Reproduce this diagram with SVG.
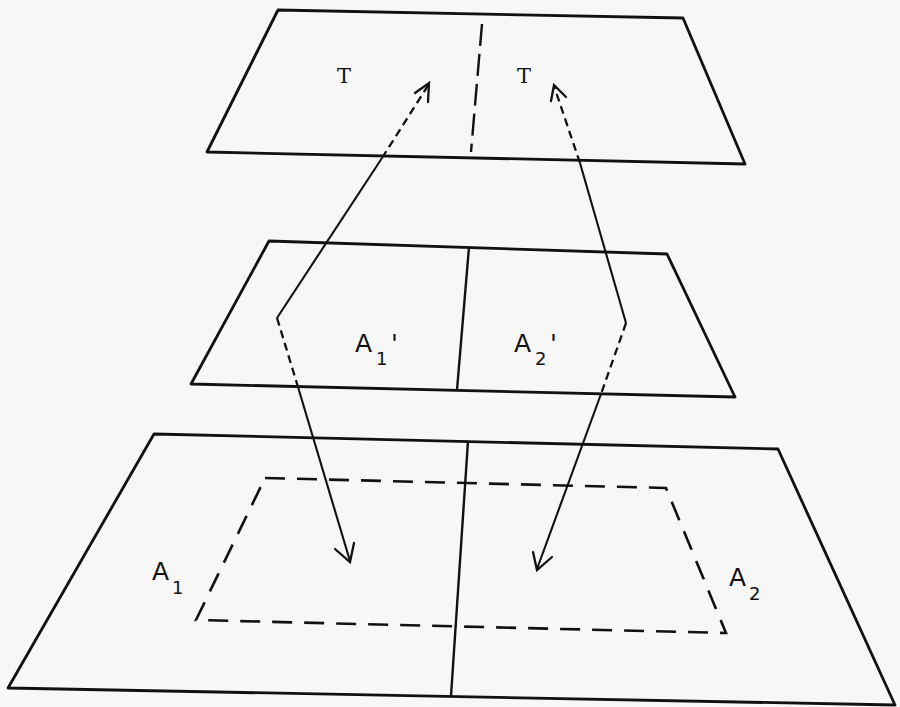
<svg xmlns="http://www.w3.org/2000/svg" width="900" height="707" viewBox="0 0 900 707">
<style>
.plane{fill:none;stroke:#111;stroke-width:2.8;stroke-linejoin:round}
.div{fill:none;stroke:#111;stroke-width:2.4}
.dash{fill:none;stroke:#111;stroke-width:2.6;stroke-dasharray:20 12}
.con{fill:none;stroke:#111;stroke-width:2.1}
.cond{fill:none;stroke:#111;stroke-width:2.3;stroke-dasharray:8 5}
.head{fill:none;stroke:#111;stroke-width:2.3;stroke-linejoin:miter;stroke-linecap:round}
.t{font-family:"DejaVu Serif","Liberation Serif",serif;font-size:21px;fill:#111}
.a{font-family:"DejaVu Sans","Liberation Sans",sans-serif;font-size:25px;fill:#111}
.s{font-family:"DejaVu Sans","Liberation Sans",sans-serif;font-size:18px;fill:#111}
</style>
<rect width="900" height="707" fill="#f7f7f7"/>
<g id="plane-T">
<polygon class="plane" points="278,10 683,18 745,164 207,152"/>
<line class="div" x1="482" y1="24" x2="471" y2="152" style="stroke-dasharray:22 8"/>
<text class="t" x="344" y="83" text-anchor="middle">T</text>
<text class="t" x="524" y="83" text-anchor="middle">T</text>
</g>
<g id="plane-Aprime">
<polygon class="plane" points="269,241 667,254 735,397 191,384"/>
<line class="div" x1="469" y1="247" x2="457" y2="390"/>
<text class="a" x="355" y="352">A</text><text class="s" x="376" y="365">1</text><text class="a" x="391" y="352">'</text>
<text class="a" x="514" y="352">A</text><text class="s" x="535" y="365">2</text><text class="a" x="550" y="352">'</text>
</g>
<g id="plane-A">
<polygon class="plane" points="154,434 778,449 895,705 8,688"/>
<line class="div" x1="468" y1="441" x2="451" y2="696"/>
<polygon class="dash" points="265,478 666,488 726,633 196,620"/>
<text class="a" x="152" y="580">A</text><text class="s" x="172" y="594">1</text>
<text class="a" x="729" y="586">A</text><text class="s" x="749" y="600">2</text>
</g>
<g id="connectors">
<line class="cond" x1="382" y1="158" x2="429" y2="84"/>
<polyline class="head" points="415,93 429,83 428,102"/>
<line class="con" x1="382" y1="158" x2="277" y2="318"/>
<line class="cond" x1="277" y1="318" x2="298" y2="387"/>
<line class="con" x1="298" y1="387" x2="350" y2="561"/>
<polyline class="head" points="335,549 350,562 354,543"/>
<line class="cond" x1="580" y1="163" x2="554" y2="86"/>
<polyline class="head" points="551,101 554,85 566,97"/>
<line class="con" x1="580" y1="163" x2="626" y2="323"/>
<line class="cond" x1="626" y1="323" x2="601" y2="394"/>
<line class="con" x1="601" y1="394" x2="537" y2="569"/>
<polyline class="head" points="533,552 537,570 552,557"/>
</g>
</svg>
